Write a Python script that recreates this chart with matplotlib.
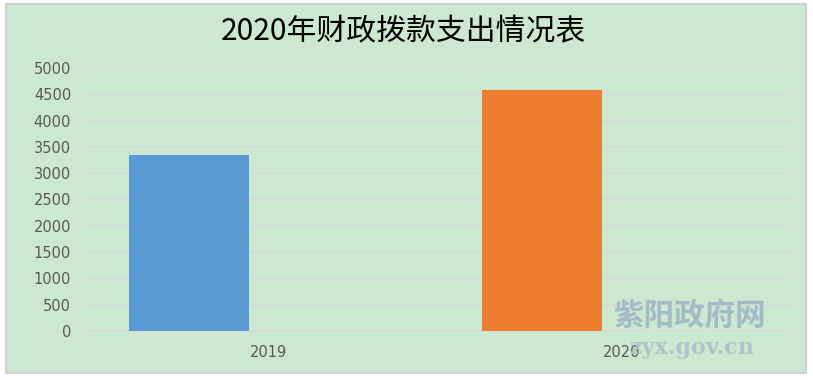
import matplotlib
matplotlib.use("Agg")
import matplotlib.pyplot as plt
from matplotlib.patches import Rectangle
from matplotlib.transforms import ScaledTranslation

plt.rcParams['font.family'] = ['Noto Sans CJK SC', 'DejaVu Sans']

categories = ["2019", "2020"]
values = [3350, 4580]
colors = ["#5B9BD5", "#ED7D31"]
yticks = [0, 500, 1000, 1500, 2000, 2500, 3000, 3500, 4000, 4500, 5000]
title = "2020年财政拨款支出情况表"

W, H = 813, 380
fig = plt.figure(figsize=(W / 100, H / 100), dpi=100)
fig.patch.set_facecolor("white")

bg = "#CDE8D0"
fig.patches.append(Rectangle((6 / W, (H - 373) / H), (806 - 6) / W, (373 - 4) / H,
                             transform=fig.transFigure, facecolor=bg,
                             edgecolor="#D0D0D0", linewidth=1.5, zorder=-5))

ax = fig.add_axes([85 / W, (H - 331) / H, (791 - 85) / W, (331 - 68) / H])
ax.set_zorder(2)
ax.patch.set_alpha(0)

x = list(range(len(categories)))
offset = -0.205
ax.bar([i + offset for i in x], values, width=0.34, color=colors, zorder=3)

ax.set_xlim(-0.5, len(categories) - 0.5)
ax.set_ylim(0, 5000)
ax.set_yticks(yticks)
ax.set_yticklabels([str(t) for t in yticks], color="#595959", fontsize=10.5,
                   family="DejaVu Sans")
ax.set_xticks(x)
ax.set_xticklabels(categories, color="#595959", fontsize=10.5, family="DejaVu Sans")
ax.tick_params(axis="y", length=0, pad=10)
ax.tick_params(axis="x", length=0, pad=10)
shift = ScaledTranslation(7 / 100, 0, fig.dpi_scale_trans)
for lbl in ax.get_xticklabels():
    lbl.set_transform(lbl.get_transform() + shift)
ax.grid(axis="y", color="#D9D9D9", linewidth=1.2, zorder=0)
for s in ["top", "right", "left"]:
    ax.spines[s].set_visible(False)
ax.spines["bottom"].set_color("#D9D9D9")
ax.spines["bottom"].set_linewidth(1.2)

fig.text(403 / W, 1 - 32 / H, title, ha="center", va="center", fontsize=21.5,
         color="black", zorder=5)

# watermark
fig.text(689 / W, 1 - 316 / H, "紫阳政府网", ha="center", va="center",
         fontsize=22, color="#9CB8C6", fontweight="bold", alpha=0.9, zorder=10)
fig.text(692 / W, 1 - 348 / H, "zyx.gov.cn", ha="center", va="center",
         fontsize=16, color="#A9C1CC", fontweight="bold", family="DejaVu Serif",
         alpha=0.9, zorder=10)

fig.savefig("out.png", dpi=100, facecolor=fig.get_facecolor())
